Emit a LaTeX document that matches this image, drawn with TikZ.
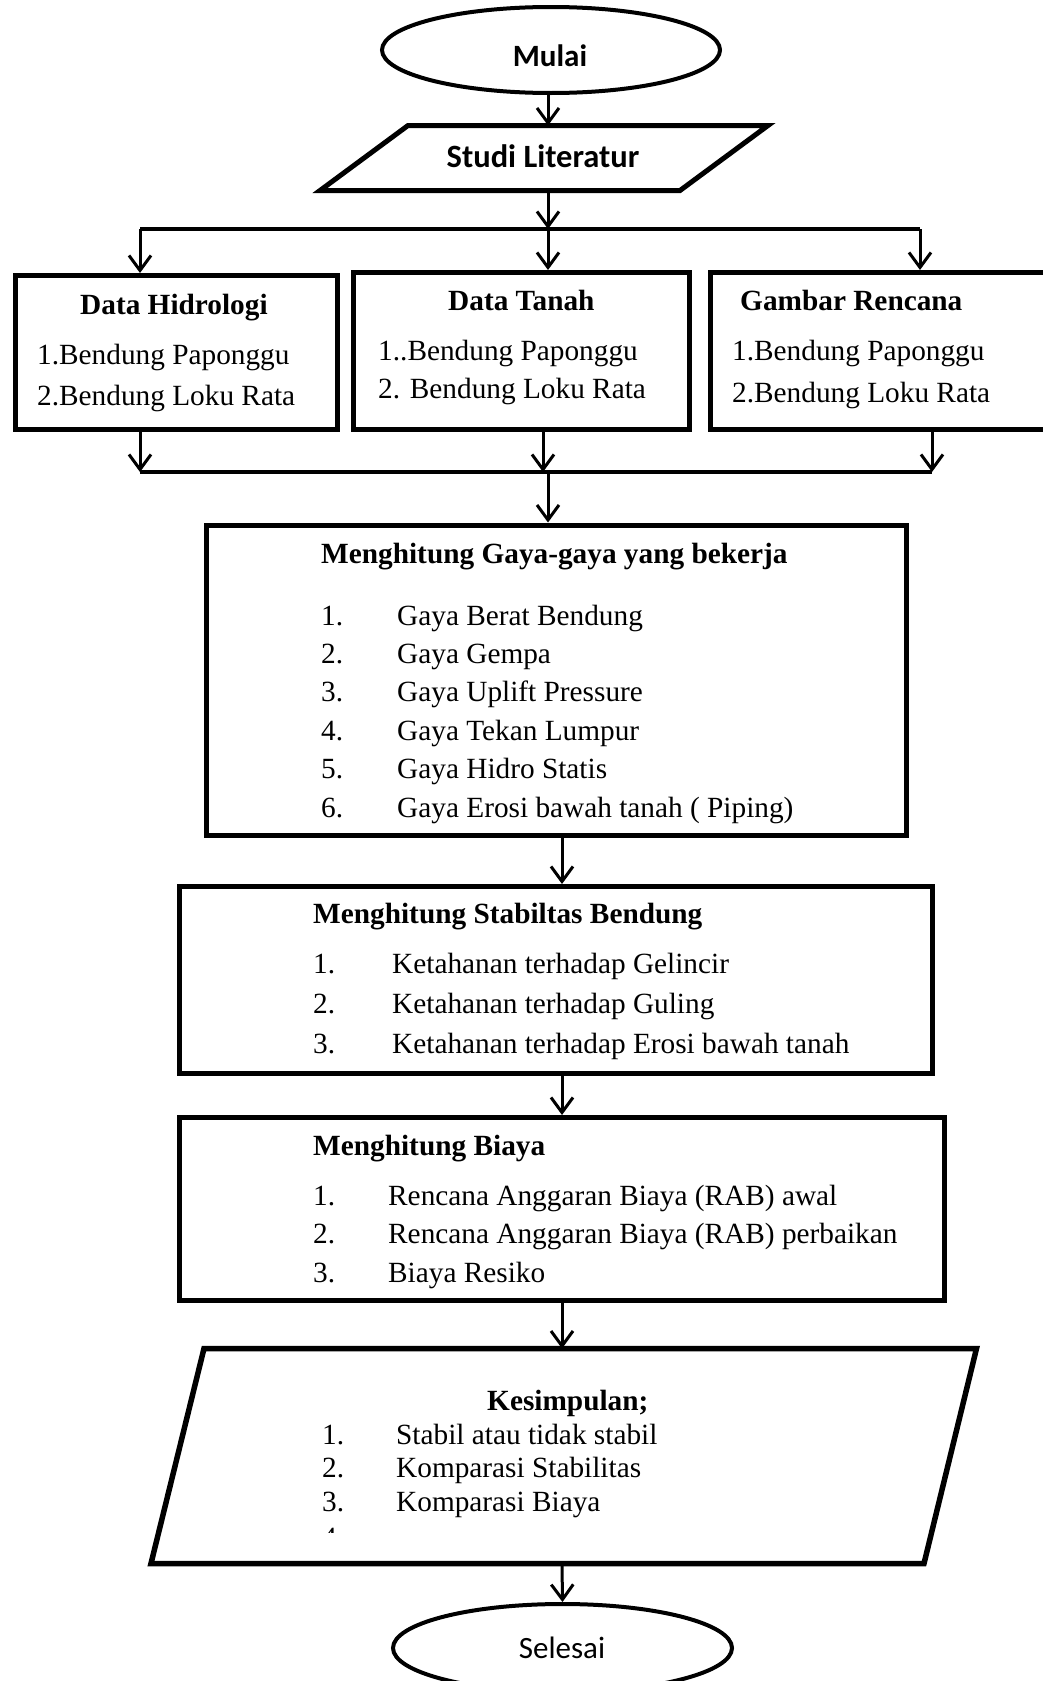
\documentclass[tikz,border=0pt]{standalone}
\usepackage{fontspec}
\setmainfont{Liberation Serif}
\newfontfamily\calibri{Carlito}
\usetikzlibrary{shapes.geometric,arrows.meta}

\tikzset{
  box/.style={draw, line width=5pt, rectangle, inner sep=0pt},
  oval/.style={draw, line width=4pt, ellipse, inner sep=0pt},
  arr/.style={line width=3pt, -{Straight Barb[length=15pt,width=22pt]}},
  bus/.style={line width=3.5pt},
  txt/.style={anchor=base west, inner sep=0pt, font=\fontsize{29.3}{35}\selectfont},
  ttl/.style={anchor=base west, inner sep=0pt, font=\fontsize{29.3}{35}\selectfont\bfseries},
  sans/.style={anchor=base, inner sep=0pt, font=\calibri\fontsize{31}{37}\selectfont},
}

\begin{document}
\begin{tikzpicture}[x=1pt,y=-1pt]
    \clip (0,0) rectangle (1043,1681);
    \fill[white] (0,0) rectangle (1043,1681);

    % mulai dan studi literatur
    \node[oval, minimum width=338, minimum height=86] (mulai) at (551,50) {};
    \node[sans, font=\calibri\fontsize{31}{37}\selectfont\bfseries] (mulaiT) at (550,66) {Mulai};
    \draw[line width=5pt] (408,125.5) -- (768,125.5) -- (680,190.5) -- (320,190.5) -- cycle;
    \coordinate (studiN) at (548,125.5);
    \coordinate (studiS) at (548,190.5);
    \node[sans, font=\calibri\fontsize{32.5}{38}\selectfont\bfseries] (studi) at (543,167) {Studi Literatur};
    \draw[arr] (studiN |- mulai.south) -- (studiN);

    % data masukan
    \coordinate (busL) at (140,229);
    \coordinate (busM) at (548,229);
    \coordinate (busR) at (920,229);
    \draw[arr] (studiS) -- (busM);
    \draw[bus] (busL) -- (busR);

    \node[box, minimum width=322, minimum height=154] (hidro) at (176.5,352.5) {};
    \node[box, minimum width=336, minimum height=157] (tanah) at (521.5,351) {};
    \node[box, minimum width=350, minimum height=157] (gambar) at (885.5,351) {};
    \draw[arr] (busL) -- (busL |- hidro.north);
    \draw[arr] (busM) -- (busM |- tanah.north);
    \draw[arr] (busR) -- (busR |- gambar.north);

    \node[ttl] (hidroT) at (80,314) {Data Hidrologi};
    \node[txt] (hidro1) at (37,364) {1.Bendung Paponggu};
    \node[txt] (hidro2) at (37,405) {2.Bendung Loku Rata};
    \node[ttl] (tanahT) at (448,310) {Data Tanah};
    \node[txt] (tanah1) at (378,360) {1..Bendung Paponggu};
    \node[txt] (tanah2) at (378,398) {2. Bendung Loku Rata};
    \node[ttl] (gambarT) at (740,310) {Gambar Rencana};
    \node[txt] (gambar1) at (732,360) {1.Bendung Paponggu};
    \node[txt] (gambar2) at (732,402) {2.Bendung Loku Rata};

    \coordinate (sumL) at (140,472);
    \coordinate (sumT) at (543,472);
    \coordinate (sumM) at (548,472);
    \coordinate (sumR) at (932,472);
    \draw[arr] (sumL |- hidro.south) -- (sumL);
    \draw[arr] (sumT |- tanah.south) -- (sumT);
    \draw[arr] (sumR |- gambar.south) -- (sumR);
    \draw[bus] (sumL) -- (sumR);

    % gaya-gaya
    \node[box, minimum width=700, minimum height=310] (gaya) at (556.5,680) {};
    \draw[arr] (sumM) -- (sumM |- gaya.north);
    \node[ttl] (gayaT) at (321,563) {Menghitung Gaya-gaya yang bekerja};
    \foreach \t [count=\i] in {Gaya Berat Bendung, Gaya Gempa, Gaya Uplift Pressure,
        Gaya Tekan Lumpur, Gaya Hidro Statis, Gaya Erosi bawah tanah ( Piping)} {
      \node[txt] (gayaNo\i) at (321,{625+38.4*(\i-1)}) {\i.};
      \node[txt] (gaya\i) at (397,{625+38.4*(\i-1)}) {\t};
    }

    % stabilitas
    \coordinate (spine) at (562,0);
    \node[box, minimum width=753, minimum height=187] (stab) at (556,980) {};
    \draw[arr] (spine |- gaya.south) -- (spine |- stab.north);
    \node[ttl] (stabT) at (313,923) {Menghitung Stabiltas Bendung};
    \foreach \t [count=\i] in {Ketahanan terhadap Gelincir, Ketahanan terhadap Guling,
        Ketahanan terhadap Erosi bawah tanah} {
      \node[txt] (stabNo\i) at (313,{973+40*(\i-1)}) {\i.};
      \node[txt] (stab\i) at (392,{973+40*(\i-1)}) {\t};
    }

    % biaya
    \node[box, minimum width=765, minimum height=183] (biaya) at (562,1209) {};
    \draw[arr] (spine |- stab.south) -- (spine |- biaya.north);
    \node[ttl] (biayaT) at (313,1155) {Menghitung Biaya};
    \foreach \t [count=\i] in {Rencana Anggaran Biaya (RAB) awal,
        Rencana Anggaran Biaya (RAB) perbaikan, Biaya Resiko} {
      \node[txt] (biayaNo\i) at (313,{1205+38.5*(\i-1)}) {\i.};
      \node[txt] (biaya\i) at (388,{1205+38.5*(\i-1)}) {\t};
    }

    % kesimpulan
    \draw[line width=5.5pt] (204,1348.5) -- (976.5,1348.5) -- (924,1563.5) -- (151,1563.5) -- cycle;
    \coordinate (kesN) at (562,1348.5);
    \coordinate (kesS) at (562,1563.5);
    \draw[arr] (spine |- biaya.south) -- (kesN);
    \node[ttl] (kesT) at (487,1410) {Kesimpulan;};
    \foreach \t [count=\i] in {Stabil atau tidak stabil, Komparasi Stabilitas, Komparasi Biaya} {
      \node[txt] (kesNo\i) at (322,{1444+33.5*(\i-1)}) {\i.};
      \node[txt] (kes\i) at (396,{1444+33.5*(\i-1)}) {\t};
    }
    \begin{scope}
      \clip (300,1520) rectangle (360,1532);
      \node[txt] (kesNo4) at (322,1547) {4.};
    \end{scope}

    % selesai
    \node[oval, minimum width=339, minimum height=88] (selesai) at (562.5,1648) {};
    \draw[arr] (kesS) -- (selesai.north);
    \node[sans] (selesaiT) at (562,1658) {Selesai};
\end{tikzpicture}
\end{document}
